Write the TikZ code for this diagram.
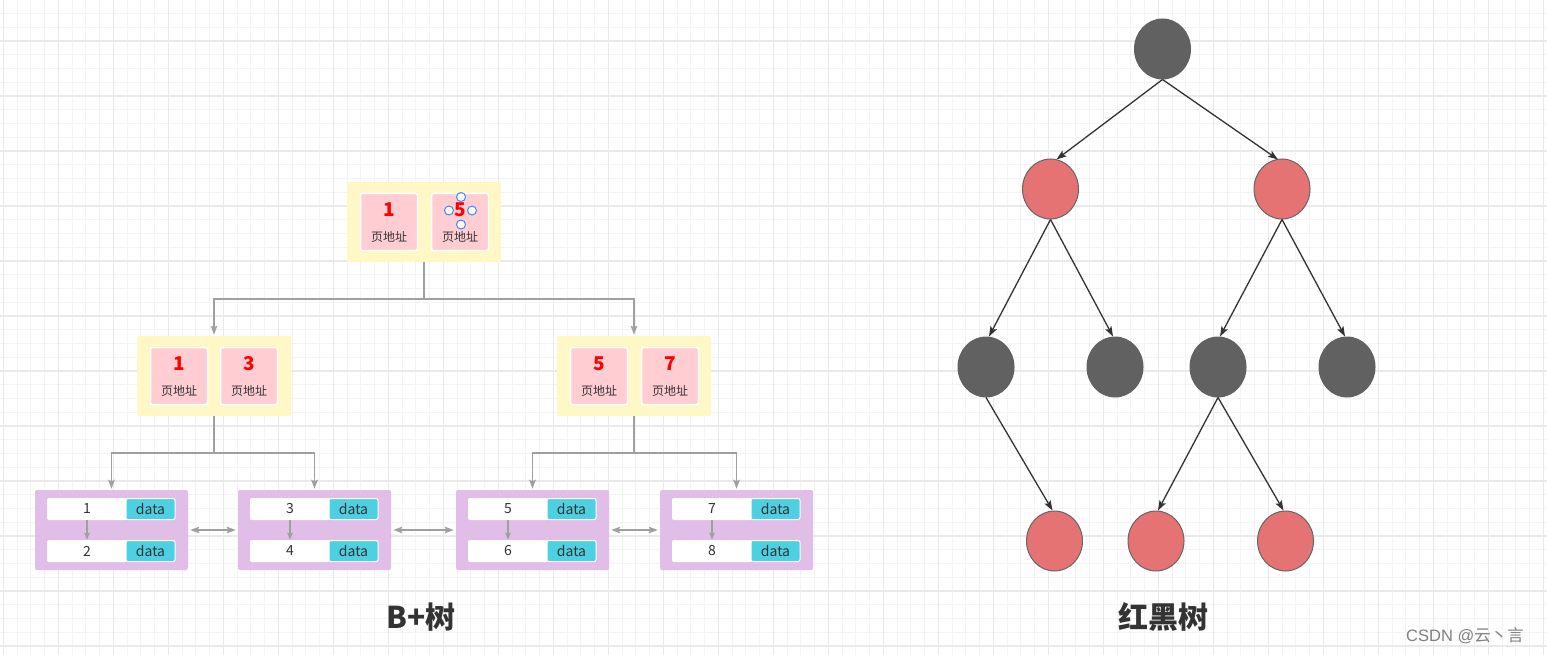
\documentclass[tikz,border=0pt]{standalone}
\usepackage{fontspec}
\setmainfont{Noto Sans CJK SC}
\newfontfamily\markfont{Liberation Sans}
\usetikzlibrary{arrows.meta,shapes.geometric}
\definecolor{gridminor}{HTML}{F4F4F4}
\definecolor{gridmajor}{HTML}{EAEAEA}
\definecolor{ybg}{HTML}{FFF8C6}
\definecolor{pinkbox}{HTML}{FFCDD2}
\definecolor{leafbg}{HTML}{E1BEE7}
\definecolor{databg}{HTML}{4DD0E1}
\definecolor{conn}{HTML}{A0A0A0}
\definecolor{ink}{HTML}{333333}
\definecolor{rbblack}{HTML}{616161}
\definecolor{rbred}{HTML}{E57373}
\definecolor{rbstroke}{HTML}{666666}
\definecolor{handleblue}{HTML}{3D8BF2}

\tikzset{
  ybox/.style={fill=ybg, draw=none, rounded corners=2pt, minimum width=154, minimum height=80, inner sep=0},
  keybox/.style={fill=pinkbox, draw=white, line width=1.5pt, rounded corners=2pt, minimum width=57, minimum height=57, inner sep=0},
  keynum/.style={text=red, font=\bfseries\fontsize{19}{19}\selectfont, inner sep=0},
  keylbl/.style={text=ink, font=\fontsize{12}{12}\selectfont, inner sep=0},
  leafbox/.style={fill=leafbg, draw=none, rounded corners=2pt, minimum width=153, minimum height=80, inner sep=0},
  rowbox/.style={fill=white, draw=none, rounded corners=2pt, minimum width=80, minimum height=22, inner sep=0, text=ink, font=\fontsize{14}{14}\selectfont},
  databox/.style={fill=databg, draw=white, line width=1pt, rounded corners=2pt, minimum width=49, minimum height=21, inner sep=0, text=ink, font=\fontsize{14}{14}\selectfont},
  gline/.style={draw=conn, line width=1.8pt},
  garrow/.style={gline, -{Stealth[length=9pt,width=6.5pt,inset=1.5pt]}},
  gdouble/.style={gline, {Stealth[length=9pt,width=6.5pt,inset=1.5pt]}-{Stealth[length=9pt,width=6.5pt,inset=1.5pt]}},
  rbnode/.style={ellipse, minimum width=56, minimum height=60, inner sep=0, draw=rbstroke, line width=1pt},
  rbblk/.style={rbnode, fill=rbblack, draw=rbblack},
  rbrd/.style={rbnode, fill=rbred},
  rbedge/.style={draw=ink, line width=1.3pt, -{Stealth[length=10pt,width=7pt,inset=2pt]}},
  handle/.style={circle, draw=handleblue, fill=white, line width=1pt, minimum size=9, inner sep=0},
  title/.style={text=ink, font=\bfseries\fontsize{30}{30}\selectfont, inner sep=0},
}

% a page-key cell: pink box with its key and the page address caption
\newcommand{\pagekey}[4]{%
  \node[keybox] (#1) at (#2,#3) {};
  \node[keynum] (#1-k) at (#2,#3-12) {#4};
  \node[keylbl] (#1-l) at (#2,#3+15) {页地址};
}
% a leaf page: two rows of key + data
\newcommand{\leafpage}[4]{%
  \node[leafbox] (#1) at (#2+76.5,530) {};
  \node[rowbox] (#1-r1) at (#2+52,509) {#3};
  \node[databox] (#1-d1) at (#2+115.5,509) {data};
  \node[rowbox] (#1-r2) at (#2+52,551) {#4};
  \node[databox] (#1-d2) at (#2+115.5,551) {data};
  \draw[draw=conn, line width=1.5pt, -{Stealth[length=7pt,width=5.5pt,inset=1pt]}] (#1-r1.south) -- (#1-r2.north);
}

\begin{document}
\begin{tikzpicture}[x=1pt,y=-1pt]
\useasboundingbox (0,0) rectangle (1547,655);
\fill[white] (0,0) rectangle (1547,655);

% background grid
\foreach \i in {0,...,112} {
  \pgfmathsetmacro\gx{3.3+13.75*\i}
  \draw[gridminor, line width=1pt] (\gx,0) -- (\gx,655);
}
\foreach \i in {-2,...,44} {
  \pgfmathsetmacro\gy{41+13.75*\i}
  \draw[gridminor, line width=1pt] (0,\gy) -- (1547,\gy);
}
\foreach \i in {0,...,28} {
  \pgfmathsetmacro\gx{3.3+55*\i}
  \draw[gridmajor, line width=1.2pt] (\gx,0) -- (\gx,655);
}
\foreach \i in {0,...,11} {
  \pgfmathsetmacro\gy{41+55*\i}
  \draw[gridmajor, line width=1.2pt] (0,\gy) -- (1547,\gy);
}

% ---------------- B+ tree ----------------
\node[ybox] (top) at (424,222) {};
\pagekey{t1}{389}{222}{1}
\pagekey{t2}{460}{222}{5}
\node[handle] (hN) at (461,197) {};
\node[handle] (hW) at (449,210.5) {};
\node[handle] (hE) at (472,210.5) {};
\node[handle] (hS) at (461,224.5) {};

\node[ybox] (mid1) at (214,376) {};
\pagekey{m1}{179}{376}{1}
\pagekey{m3}{249}{376}{3}
\node[ybox] (mid2) at (634,376) {};
\pagekey{m5}{599}{376}{5}
\pagekey{m7}{670}{376}{7}

\leafpage{L1}{35}{1}{2}
\leafpage{L2}{238}{3}{4}
\leafpage{L3}{456}{5}{6}
\leafpage{L4}{660}{7}{8}

% root -> inner pages
\draw[gline] (top.south) -- ++(0,37) coordinate (j0);
\draw[garrow, shorten >=1pt] (j0) -| (mid1.north);
\draw[garrow, shorten >=1pt] (j0) -| (mid2.north);
% inner pages -> leaves
\draw[gline] (mid1.south) -- ++(0,37) coordinate (j1);
\draw[garrow, shorten >=1pt] (j1) -| (L1.north);
\draw[garrow, shorten >=1pt] (j1) -| (L2.north);
\draw[gline] (mid2.south) -- ++(0,37) coordinate (j2);
\draw[garrow, shorten >=1pt] (j2) -| (L3.north);
\draw[garrow, shorten >=1pt] (j2) -| (L4.north);
% leaf chain
\draw[gdouble, shorten <=2pt, shorten >=2pt] (L1.east) -- (L2.west);
\draw[gdouble, shorten <=2pt, shorten >=2pt] (L2.east) -- (L3.west);
\draw[gdouble, shorten <=2pt, shorten >=2pt] (L3.east) -- (L4.west);

\node[title] (bt) at (421,617) {B+树};

% ---------------- red-black tree ----------------
\node[rbblk] (r0) at (1162.5,49) {};
\node[rbrd] (a1) at (1050.5,189) {};
\node[rbrd] (a2) at (1282,189) {};
\node[rbblk] (b1) at (986,367) {};
\node[rbblk] (b2) at (1115,367) {};
\node[rbblk] (b3) at (1218,367) {};
\node[rbblk] (b4) at (1347,367) {};
\node[rbrd] (c1) at (1054.5,541) {};
\node[rbrd] (c2) at (1156,541) {};
\node[rbrd] (c3) at (1285.5,541) {};

\draw[rbedge] (r0.south) -- ([xshift=6pt,yshift=-1pt]a1.north);
\draw[rbedge] (r0.south) -- ([xshift=-4pt,yshift=-1pt]a2.north);
\draw[rbedge] (a1.south) -- ([xshift=3pt]b1.north);
\draw[rbedge] (a1.south) -- ([xshift=-2pt]b2.north);
\draw[rbedge] (a2.south) -- ([xshift=2pt]b3.north);
\draw[rbedge] (a2.south) -- ([xshift=-2pt]b4.north);
\draw[rbedge] (b1.south) -- ([xshift=-2pt]c1.north);
\draw[rbedge] (b3.south) -- ([xshift=2pt]c2.north);
\draw[rbedge] (b3.south) -- ([xshift=-2pt]c3.north);

\node[title] (rt) at (1163,617) {红黑树};

\node[text=black!50, font=\fontsize{16.5}{16.5}\selectfont, inner sep=0] (mark) at (1465,636) {{\markfont CSDN @}云丶言};
\end{tikzpicture}
\end{document}
